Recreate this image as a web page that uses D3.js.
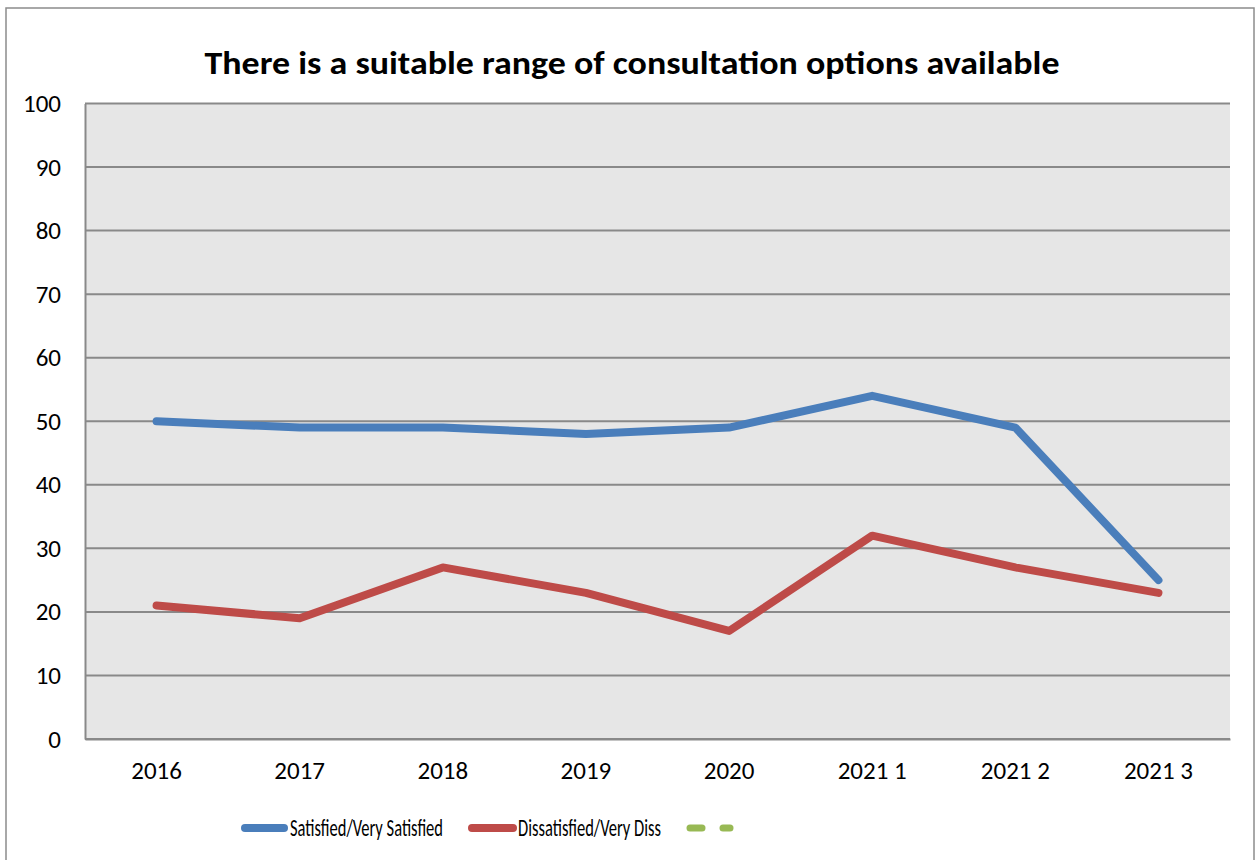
<!DOCTYPE html>
<html><head><meta charset="utf-8">
<script src="https://cdn.jsdelivr.net/npm/d3@7"></script>
<style>body{margin:0;background:#fff}svg{display:block}</style>
</head><body>
<svg id="c" width="1258" height="860"></svg>
<script>
const categories = ["2016","2017","2018","2019","2020","2021 1","2021 2","2021 3"];
const satisfied = [50,49,49,48,49,54,49,25];
const dissatisfied = [21,19,27,23,17,32,27,23];
const yTicks = [0,10,20,30,40,50,60,70,80,90,100];
const seriesNames = ["Satisfied/Very Satisfied","Dissatisfied/Very Diss",""];
const seriesColors = ["#4a7ebb","#be4b48","#98b954"];
const title = "There is a suitable range of consultation options available";

const svg = d3.select("#c");
const font = "Calibri, Carlito, 'Open Sans', sans-serif";
const m = {l:85, r:1230, t:103.5, b:739};

svg.append("rect").attr("x",6).attr("y",8).attr("width",1248).attr("height",900)
  .attr("fill","#fff").attr("stroke","#8c8c8c").attr("stroke-width",1.5);

const x = d3.scaleBand().domain(categories).range([m.l,m.r]);
const y = d3.scaleLinear().domain([0,100]).range([m.b,m.t]);

svg.append("rect").attr("x",m.l).attr("y",m.t).attr("width",m.r-m.l).attr("height",m.b-m.t).attr("fill","#e6e6e6");

svg.append("g").selectAll("line").data(yTicks).join("line")
  .attr("x1",m.l).attr("x2",m.r).attr("y1",d=>y(d)).attr("y2",d=>y(d))
  .attr("stroke","#898989").attr("stroke-width",2);

const ya = svg.append("g").attr("transform",`translate(${m.l},0)`)
  .call(d3.axisLeft(y).tickValues(yTicks).tickSize(0).tickPadding(24));
ya.attr("font-family",font).attr("font-size",25);
ya.select(".domain").attr("stroke","#898989").attr("stroke-width",2);
ya.selectAll("text").attr("fill","#000");

const xa = svg.append("g").attr("transform",`translate(0,${m.b})`)
  .call(d3.axisBottom(x).tickSize(0).tickPadding(22));
xa.attr("font-family",font).attr("font-size",25);
xa.select(".domain").attr("stroke","#898989").attr("stroke-width",2);
xa.selectAll("text").attr("fill","#000");

const line = d3.line().x((d,i)=>x(categories[i])+x.bandwidth()/2).y(d=>y(d));
[satisfied,dissatisfied].forEach((s,i)=>{
  svg.append("path").attr("d",line(s)).attr("fill","none")
    .attr("stroke",seriesColors[i]).attr("stroke-width",8)
    .attr("stroke-linejoin","round").attr("stroke-linecap","round");
});

svg.append("text").attr("x",632).attr("y",74).attr("text-anchor","middle")
  .attr("font-family",font).attr("font-weight","bold").attr("font-size",32)
  .attr("textLength",855).attr("lengthAdjust","spacingAndGlyphs").text(title);

const ly = 828;
const lg = svg.append("g");
const lx = [[245,284,290,153],[472,513,518,143]];
lx.forEach((p,i)=>{
  lg.append("line").attr("x1",p[0]).attr("x2",p[1]).attr("y1",ly).attr("y2",ly)
    .attr("stroke",seriesColors[i]).attr("stroke-width",8).attr("stroke-linecap","round");
  lg.append("text").attr("x",p[2]).attr("y",ly+8).attr("font-family",font).attr("font-size",25)
    .attr("textLength",p[3]).attr("lengthAdjust","spacingAndGlyphs").text(seriesNames[i]);
});
[[690,702],[723,730]].forEach(s=>{
  lg.append("line").attr("x1",s[0]).attr("x2",s[1]).attr("y1",ly).attr("y2",ly)
    .attr("stroke",seriesColors[2]).attr("stroke-width",7).attr("stroke-linecap","round");
});
</script>
</body></html>
